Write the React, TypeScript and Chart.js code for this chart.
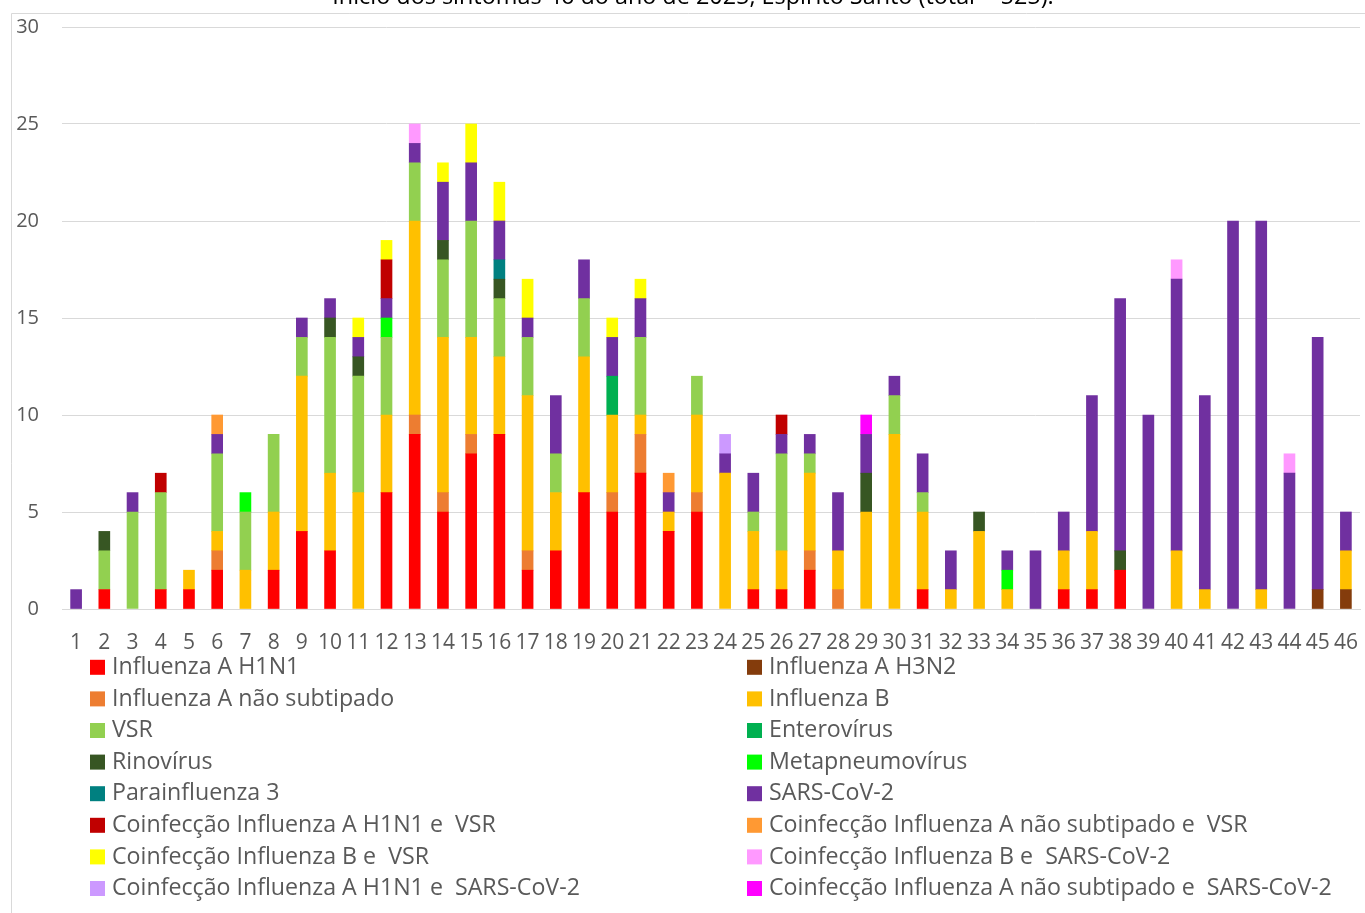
import React, { useEffect, useRef } from "react";
import { Chart, registerables } from "chart.js";

Chart.register(...registerables);

const weeks = ["1","2","3","4","5","6","7","8","9","10","11","12","13","14","15","16","17","18","19","20","21","22","23","24","25","26","27","28","29","30","31","32","33","34","35","36","37","38","39","40","41","42","43","44","45","46"];

const titleText = "Início dos sintomas 46 do ano de 2025, Espírito Santo (total = 525).";

const influenzaAH1N1 = [0,1,0,1,1,2,0,2,4,3,0,6,9,5,8,9,2,3,6,5,7,4,5,0,1,1,2,0,0,0,1,0,0,0,0,1,1,2,0,0,0,0,0,0,0,0];
const influenzaAH3N2 = [0,0,0,0,0,0,0,0,0,0,0,0,0,0,0,0,0,0,0,0,0,0,0,0,0,0,0,0,0,0,0,0,0,0,0,0,0,0,0,0,0,0,0,0,1,1];
const influenzaANaoSub = [0,0,0,0,0,1,0,0,0,0,0,0,1,1,1,0,1,0,0,1,2,0,1,0,0,0,1,1,0,0,0,0,0,0,0,0,0,0,0,0,0,0,0,0,0,0];
const influenzaB = [0,0,0,0,1,1,2,3,8,4,6,4,10,8,5,4,8,3,7,4,1,1,4,7,3,2,4,2,5,9,4,1,4,1,0,2,3,0,0,3,1,0,1,0,0,2];
const vsr = [0,2,5,5,0,4,3,4,2,7,6,4,3,4,6,3,3,2,3,0,4,0,2,0,1,5,1,0,0,2,1,0,0,0,0,0,0,0,0,0,0,0,0,0,0,0];
const enterovirus = [0,0,0,0,0,0,0,0,0,0,0,0,0,0,0,0,0,0,0,2,0,0,0,0,0,0,0,0,0,0,0,0,0,0,0,0,0,0,0,0,0,0,0,0,0,0];
const rinovirus = [0,1,0,0,0,0,0,0,0,1,1,0,0,1,0,1,0,0,0,0,0,0,0,0,0,0,0,0,2,0,0,0,1,0,0,0,0,1,0,0,0,0,0,0,0,0];
const metapneumovirus = [0,0,0,0,0,0,1,0,0,0,0,1,0,0,0,0,0,0,0,0,0,0,0,0,0,0,0,0,0,0,0,0,0,1,0,0,0,0,0,0,0,0,0,0,0,0];
const parainfluenza3 = [0,0,0,0,0,0,0,0,0,0,0,0,0,0,0,1,0,0,0,0,0,0,0,0,0,0,0,0,0,0,0,0,0,0,0,0,0,0,0,0,0,0,0,0,0,0];
const sarsCoV2 = [1,0,1,0,0,1,0,0,1,1,1,1,1,3,3,2,1,3,2,2,2,1,0,1,2,1,1,3,2,1,2,2,0,1,3,2,7,13,10,14,10,20,19,7,13,2];
const coinfH1N1VSR = [0,0,0,1,0,0,0,0,0,0,0,2,0,0,0,0,0,0,0,0,0,0,0,0,0,1,0,0,0,0,0,0,0,0,0,0,0,0,0,0,0,0,0,0,0,0];
const coinfANaoSubVSR = [0,0,0,0,0,1,0,0,0,0,0,0,0,0,0,0,0,0,0,0,0,1,0,0,0,0,0,0,0,0,0,0,0,0,0,0,0,0,0,0,0,0,0,0,0,0];
const coinfBVSR = [0,0,0,0,0,0,0,0,0,0,1,1,0,1,2,2,2,0,0,1,1,0,0,0,0,0,0,0,0,0,0,0,0,0,0,0,0,0,0,0,0,0,0,0,0,0];
const coinfBSars = [0,0,0,0,0,0,0,0,0,0,0,0,1,0,0,0,0,0,0,0,0,0,0,0,0,0,0,0,0,0,0,0,0,0,0,0,0,0,0,1,0,0,0,1,0,0];
const coinfH1N1Sars = [0,0,0,0,0,0,0,0,0,0,0,0,0,0,0,0,0,0,0,0,0,0,0,1,0,0,0,0,0,0,0,0,0,0,0,0,0,0,0,0,0,0,0,0,0,0];
const coinfANaoSubSars = [0,0,0,0,0,0,0,0,0,0,0,0,0,0,0,0,0,0,0,0,0,0,0,0,0,0,0,0,1,0,0,0,0,0,0,0,0,0,0,0,0,0,0,0,0,0];

const seriesLabels = [
  "Influenza A H1N1",
  "Influenza A H3N2",
  "Influenza A não subtipado",
  "Influenza B",
  "VSR",
  "Enterovírus",
  "Rinovírus",
  "Metapneumovírus",
  "Parainfluenza 3",
  "SARS-CoV-2",
  "Coinfecção Influenza A H1N1 e  VSR",
  "Coinfecção Influenza A não subtipado e  VSR",
  "Coinfecção Influenza B e  VSR",
  "Coinfecção Influenza B e  SARS-CoV-2",
  "Coinfecção Influenza A H1N1 e  SARS-CoV-2",
  "Coinfecção Influenza A não subtipado e  SARS-CoV-2",
];

const seriesValues = [
  influenzaAH1N1, influenzaAH3N2, influenzaANaoSub, influenzaB, vsr, enterovirus,
  rinovirus, metapneumovirus, parainfluenza3, sarsCoV2, coinfH1N1VSR, coinfANaoSubVSR,
  coinfBVSR, coinfBSars, coinfH1N1Sars, coinfANaoSubSars,
];

const seriesColors = [
  "#FF0000", "#843C0C", "#ED7D31", "#FFC000", "#92D050", "#00B050",
  "#375623", "#00FF00", "#008080", "#7030A0", "#C00000", "#FF9933",
  "#FFFF00", "#FF99FF", "#CC99FF", "#FF00FF",
];

const FONT = "'Open Sans', Lato, sans-serif";
const TEXT_GREY = "#595959";

const decorPlugin = {
  id: "decor",
  beforeDraw(chart: any) {
    const ctx = chart.ctx;
    ctx.save();
    ctx.fillStyle = "#FFFFFF";
    ctx.fillRect(0, 0, chart.width, chart.height);
    ctx.strokeStyle = "#D9D9D9";
    ctx.lineWidth = 1;
    ctx.beginPath();
    ctx.moveTo(11.5, chart.height);
    ctx.lineTo(11.5, 13.5);
    ctx.lineTo(chart.width, 13.5);
    ctx.stroke();
    ctx.fillStyle = "#000000";
    ctx.font = `23.4px ${FONT}`;
    ctx.textAlign = "center";
    ctx.textBaseline = "alphabetic";
    ctx.fillText(titleText, 693, 4);
    ctx.restore();
  },
  afterDraw(chart: any) {
    const ctx = chart.ctx;
    ctx.save();
    ctx.font = `23.2px ${FONT}`;
    ctx.textBaseline = "middle";
    ctx.textAlign = "left";
    const colX = [90, 747];
    const rowY0 = 667.3;
    const rowGap = 31.6;
    chart.data.datasets.forEach((ds: any, i: number) => {
      const col = i % 2;
      const row = Math.floor(i / 2);
      const y = rowY0 + row * rowGap;
      const x = colX[col];
      ctx.fillStyle = ds.backgroundColor;
      ctx.fillRect(x, y - 7.5, 15, 15);
      ctx.fillStyle = TEXT_GREY;
      ctx.fillText(ds.label, x + 22, y);
    });
    ctx.restore();
  },
};

export default function App() {
  const canvasRef = useRef<HTMLCanvasElement | null>(null);

  useEffect(() => {
    document.body.style.margin = "0";
    const canvas = canvasRef.current;
    if (!canvas) return;
    const chart = new Chart(canvas, {
      type: "bar",
      data: {
        labels: weeks,
        datasets: seriesLabels.map((label, i) => ({
          label,
          data: seriesValues[i].map((v) => (v === 0 ? null : v)),
          backgroundColor: seriesColors[i],
          borderWidth: 0,
          barThickness: 11,
          stack: "s",
        })),
      },
      options: {
        responsive: false,
        animation: false,
        events: [],
        layout: { padding: { left: 0, top: 27, right: 5, bottom: 254 } },
        plugins: {
          legend: { display: false },
          title: { display: false },
          tooltip: { enabled: false },
        },
        scales: {
          x: {
            stacked: true,
            grid: { display: false, drawTicks: false },
            border: { display: true, color: "#D9D9D9", width: 1 },
            ticks: {
              autoSkip: false,
              maxRotation: 0,
              padding: 21,
              color: TEXT_GREY,
              font: { family: FONT, size: 21 },
            },
            afterFit(scale: any) {
              scale.height = 50;
              scale.paddingLeft = 0;
              scale.paddingRight = 0;
            },
          },
          y: {
            stacked: true,
            min: 0,
            max: 30,
            ticks: {
              stepSize: 5,
              padding: 23,
              color: TEXT_GREY,
              font: { family: FONT, size: 20 },
            },
            grid: { color: "#D9D9D9", lineWidth: 1, drawTicks: false },
            border: { display: false },
            afterFit(scale: any) {
              scale.width = 62;
              scale.paddingTop = 0;
              scale.paddingBottom = 0;
            },
          },
        },
      },
      plugins: [decorPlugin],
    });
    return () => chart.destroy();
  }, []);

  return (
    <div style={{ width: 1365, height: 913, position: "relative" }}>
      <canvas ref={canvasRef} width={1365} height={913} style={{ display: "block" }} />
    </div>
  );
}
